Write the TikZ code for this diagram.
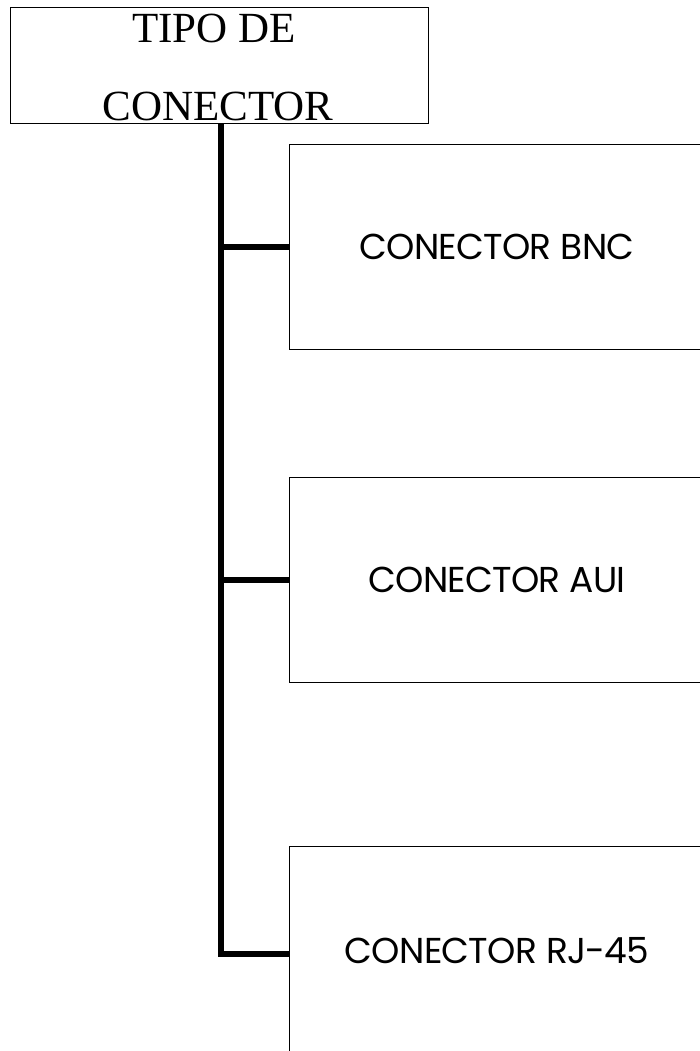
\documentclass[tikz,border=0pt]{standalone}
\usepackage{fontspec}
\setmainfont{Liberation Serif}
\newfontfamily\gothic{Poppins}
\begin{document}
\begin{tikzpicture}[x=1pt,y=1pt,
  topbox/.style={draw,line width=1.3pt,minimum width=418pt,minimum height=116pt,inner sep=0pt,anchor=north west},
  subbox/.style={draw,line width=1.3pt,minimum width=440pt,minimum height=205pt,inner sep=0pt,anchor=north west},
  toptext/.style={font=\fontsize{43}{43}\selectfont,inner sep=0pt,anchor=base},
  subtext/.style={font=\gothic\fontsize{36}{36}\selectfont\addfontfeatures{LetterSpace=-2},inner sep=0pt},
  trunk/.style={line width=6pt}]
\useasboundingbox (0,0) rectangle (700,-1051);
\clip (0,0) rectangle (700,-1051);
\fill[white] (0,0) rectangle (700,-1051);
\node[topbox] (top) at (10,-7) {};
\node[toptext] (t1) at (214,-43) {TIPO DE};
\node[toptext] (t2) at (218,-121) {CONECTOR};
\node[subbox] (bnc) at (289,-144) {};
\node[subbox] (aui) at (289,-477) {};
\node[subbox,minimum height=214pt] (rj) at (289,-846) {};
\node[subtext] (bnct) at (497,-247) {CONECTOR BNC};
\node[subtext] (auit) at (497,-580) {CONECTOR AUI};
\node[subtext] (rjt) at (497,-951) {CONECTOR RJ-45};
\coordinate (tr) at ([xshift=1pt]top.south);
\coordinate (trl) at ([xshift=-2pt]top.south);
\draw[trunk] (tr) |- (rj.west);
\draw[trunk] (bnc.west) -- (bnc.west -| trl);
\draw[trunk] (aui.west) -- (aui.west -| trl);
\end{tikzpicture}
\end{document}
